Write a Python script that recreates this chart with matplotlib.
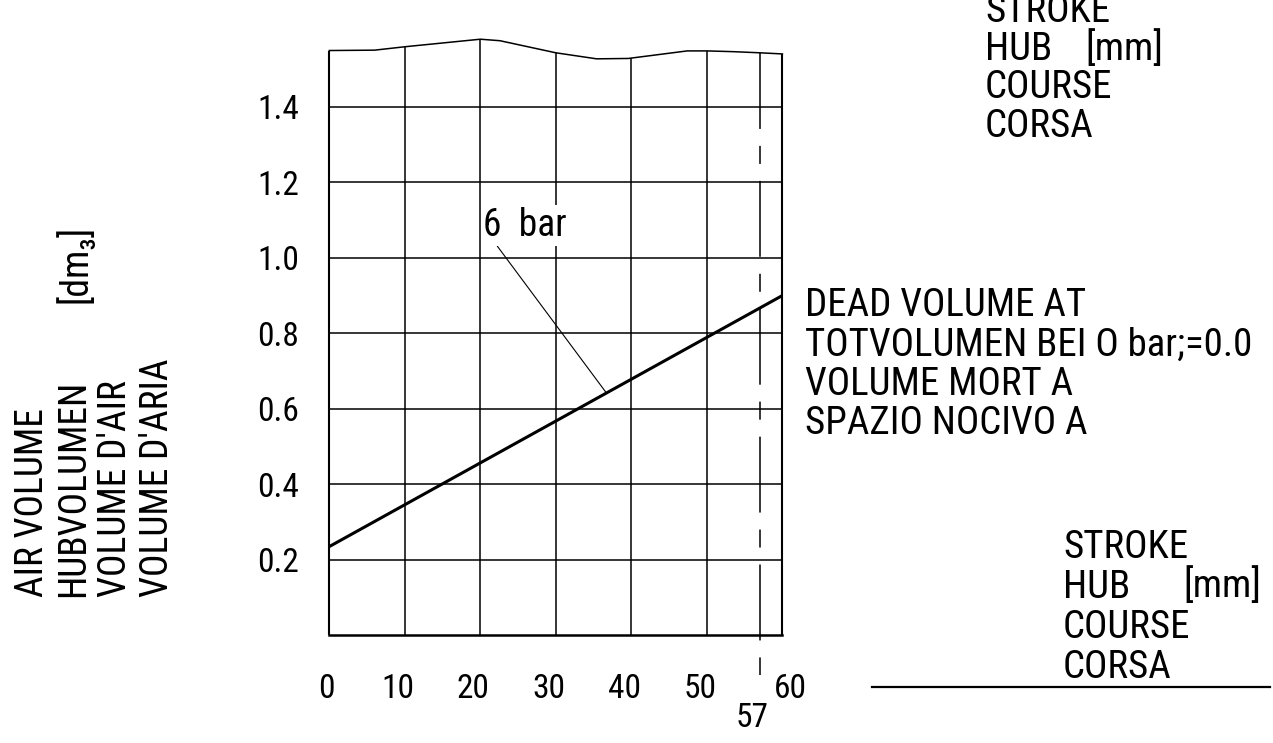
import matplotlib.pyplot as plt
import matplotlib.transforms as mtransforms
from matplotlib.lines import Line2D
import numpy as np

plt.rcParams['font.family'] = ['Roboto Condensed', 'Roboto', 'DejaVu Sans']

# air volume of the cylinder at 6 bar, over the stroke
stroke_mm = [0, 60]
air_volume_dm3 = [0.235, 0.90]
curve_label = "6  bar"

x_ticks = [0, 10, 20, 30, 40, 50, 60]
y_ticks = [0.2, 0.4, 0.6, 0.8, 1.0, 1.2, 1.4]
y_tick_labels = ["0.2", "0.4", "0.6", "0.8", "1.0", "1.2", "1.4"]
max_stroke = 57

# wavy break line closing the grid at the top
break_x = [0, 6, 10, 20, 22.6, 30, 35.4, 39.6, 47.4, 50, 53.5, 57, 60]
break_y = [1.549, 1.550, 1.559, 1.579, 1.575, 1.543, 1.527, 1.528, 1.548, 1.548, 1.546, 1.543, 1.540]

y_label_lines = ["AIR VOLUME", "HUBVOLUMEN", "VOLUME D'AIR", "VOLUME D'ARIA"]
y_unit = "[dm\u2083]"
x_label_lines = ["STROKE", "HUB", "COURSE", "CORSA"]
x_unit = "[mm]"
dead_volume_lines = ["DEAD VOLUME AT", "TOTVOLUMEN BEI O bar;=0.0",
                     "VOLUME MORT A", "SPAZIO NOCIVO A"]

W, H = 1273, 743
fig = plt.figure(figsize=(W / 100, H / 100), dpi=100)
ax = fig.add_axes([0.2587, 0.145, 0.3559, 0.8129])
ax.set_xlim(0, 60)
ax.set_ylim(0, 1.6)

# grid, clipped by the break line
top = np.interp(x_ticks, break_x, break_y)
ax.vlines(x_ticks[1:-1], 0, top[1:-1], color='black', lw=1.1)
ax.vlines([x_ticks[0], x_ticks[-1]], 0, [top[0], top[-1]], color='black', lw=1.5, clip_on=False)
ax.hlines(y_ticks, 0, 60, color='black', lw=1.1)
ax.plot(break_x, break_y, color='black', lw=1.1, clip_on=False)

# max stroke centre line
ax.plot([max_stroke, max_stroke], [np.interp(max_stroke, break_x, break_y), -0.105],
        color='black', lw=1.1, linestyle=(0, (49.7, 11.1, 11.8, 11.1)), clip_on=False)

ax.plot(stroke_mm, air_volume_dm3, color='black', lw=2.2, solid_capstyle='butt')

leader_x = 36.7
ax.annotate(curve_label, xy=(leader_x, np.interp(leader_x, stroke_mm, air_volume_dm3)),
            xytext=(20.4, 1.057), ha='left', va='baseline', fontsize=27,
            bbox=dict(boxstyle='square,pad=0.05', fc='white', ec='none'),
            arrowprops=dict(arrowstyle='-', lw=0.8, color='black',
                            shrinkA=0, shrinkB=0, relpos=(0.15, 0)))

for side in ['top', 'left', 'right']:
    ax.spines[side].set_visible(False)
ax.spines['bottom'].set_linewidth(1.8)

ax.set_xticks(x_ticks)
ax.set_yticks(y_ticks)
ax.set_yticklabels(y_tick_labels)
ax.tick_params(axis='x', length=0, pad=27, labelsize=24)
ax.tick_params(axis='y', length=0, pad=22, labelsize=24)
for i, lab in enumerate(ax.get_xticklabels()):
    dx = 8 if i == len(x_ticks) - 1 else (-3 if i == 0 else -7)
    lab.set_transform(lab.get_transform() + mtransforms.ScaledTranslation(dx / 100, 0, fig.dpi_scale_trans))

ax.annotate(str(max_stroke), xy=(max_stroke, 0), xytext=(-5.3, -66), textcoords='offset points',
            ha='center', va='baseline', fontsize=24)


def put_lines(lines, x_px, first_px, step_px, size):
    for i, line in enumerate(lines):
        fig.text(x_px / W, 1 - (first_px + i * step_px) / H, line,
                 fontsize=size, ha='left', va='baseline')


# y axis title, written upwards
for i, line in enumerate(y_label_lines):
    fig.text((43 + i * 41.5) / W, 1 - 597 / H, line, fontsize=27, rotation=90,
             rotation_mode='anchor', ha='left', va='baseline')
fig.text(87 / W, 1 - 303 / H, y_unit, fontsize=27, rotation=90,
         rotation_mode='anchor', ha='left', va='baseline')

put_lines(dead_volume_lines, 805, 316, 39.4, 28)
put_lines(x_label_lines, 985, 21.7, 38.3, 28)
put_lines([x_unit], 1085, 60, 0, 28)
put_lines(x_label_lines, 1063, 558, 40, 28)
put_lines([x_unit], 1183, 597, 0, 28)
fig.add_artist(Line2D([872 / W, 1270 / W], [1 - 687 / H, 1 - 687 / H], color='black', lw=1.6))

fig.savefig("out.png", dpi=100)
